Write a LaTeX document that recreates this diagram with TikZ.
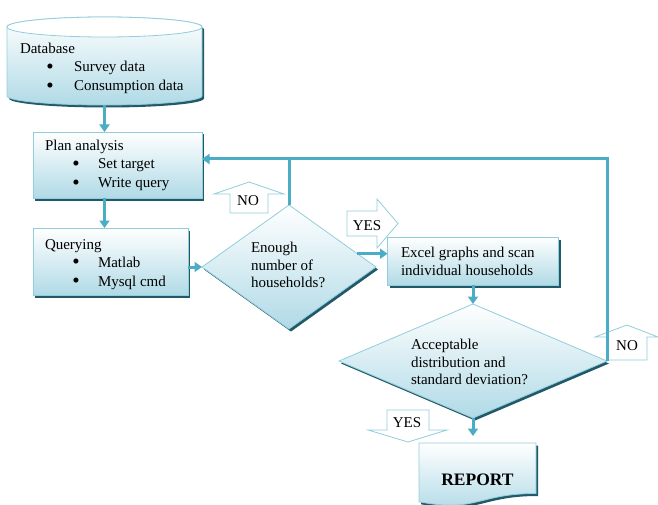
\documentclass[tikz,border=0pt]{standalone}
\usepackage{fontspec}
\setmainfont{Liberation Serif}
\usetikzlibrary{shapes.geometric,arrows.meta,shadows}
\definecolor{lineC}{HTML}{4BACC6}
\definecolor{edgeC}{HTML}{92CDDC}
\definecolor{fillB}{HTML}{B0DAE6}
\definecolor{shadowC}{HTML}{215968}
\newcommand{\blt}{\makebox[0pt][c]{\raisebox{-1.2pt}{\fontsize{21}{21}\selectfont •}}}
\begin{document}
\begin{tikzpicture}[x=1pt,y=-1pt,
  font=\fontsize{15}{18}\selectfont,
  shd/.style={drop shadow={shadow xshift=2pt,shadow yshift=-2.5pt,fill=shadowC,opacity=1}},
  shapefill/.style={draw=edgeC,line width=0.8pt,top color=white,bottom color=fillB,shd},
  box/.style={shapefill,rectangle,inner sep=0pt,outer sep=0pt},
  dia/.style={shapefill,diamond,inner sep=0pt,outer sep=0pt},
  hollow/.style={draw=edgeC,line width=0.8pt,fill=white,line join=miter},
  conn/.style={draw=lineC,line width=3pt,-{Triangle[length=7.5pt,width=10pt]}},
  plain/.style={draw=lineC,line width=3pt,line join=miter},
  txt/.style={inner sep=0pt,outer sep=0pt,anchor=base west},
  bul/.style={txt},
  ctxt/.style={inner sep=0pt,outer sep=0pt,anchor=base}]
\useasboundingbox (0,0) rectangle (658,505);

% hollow direction arrows
\path[hollow] (230,213) -- (230,194) -- (214,194) -- (249,182) -- (284,194) -- (268,194) -- (268,213) -- cycle;
\path[hollow] (347,211) -- (377,211) -- (377,199) -- (398,223.5) -- (377,248) -- (377,236) -- (347,236) -- cycle;
\path[hollow] (607,360) -- (607,337) -- (595,337) -- (627,325) -- (658,337) -- (647,337) -- (647,360) -- cycle;
\path[hollow] (387,410) -- (429,410) -- (429,430) -- (447,430) -- (408,442) -- (368,430) -- (387,430) -- cycle;

% database cylinder
\path[shapefill] (7,96) arc[start angle=180,end angle=360,x radius=97.5pt,y radius=9pt]
  -- (202,27) arc[start angle=0,end angle=180,x radius=97.5pt,y radius=10pt] -- cycle;
\path[draw=edgeC,line width=0.8pt,fill=white] (104.5,27) ellipse[x radius=97.5pt,y radius=10pt];
\coordinate (dbb) at (104.5,105);

% boxes and decisions
\node[box,minimum width=169pt,minimum height=66pt] (plan) at (117.5,165) {};
\node[box,minimum width=155pt,minimum height=67pt] (query) at (110.5,261.5) {};
\node[dia,minimum width=174pt,minimum height=124pt] (d1) at (289,267) {};
\node[box,minimum width=171pt,minimum height=48pt] (excel) at (473,261) {};
\node[dia,minimum width=268pt,minimum height=114pt] (d2) at (473,361) {};

% report document shape
\path[shapefill] (419,443) -- (536,443) -- (536,493.5)
  .. controls (477.5,493.5) and (477.5,512.7) .. (419,501.8) -- cycle;
\node[ctxt,font=\fontsize{17.5}{20}\selectfont\bfseries] (report) at (477.5,485) {REPORT};
\coordinate (reptop) at (473,436);

% connectors
\draw[conn] (dbb) -- (dbb |- plan.north);
\draw[conn] (plan.south -| dbb) -- (query.north -| dbb);
\draw[conn] (query.east |- d1.west) -- (d1.west);
\coordinate (lp) at (289,159);
\draw[plain] (d2.east) -- (d2.east |- lp) -- (lp);
\draw[conn] (d1.north) -- (lp) -- (lp -| plan.east);
\draw[conn] (d1.11) -- (d1.11 -| excel.west);
\draw[conn] (excel.south) -- (d2.north);
\draw[conn] (d2.south) -- (reptop);

% texts
\node[txt] (t1) at (20,54) {Database};
\node[bul] (t2) at (50,72) {\blt\hspace{24pt}Survey data};
\node[bul] (t3) at (50,91) {\blt\hspace{24pt}Consumption data};
\node[txt] (t4) at (45,151) {Plan analysis};
\node[bul] (t5) at (76,169) {\blt\hspace{22pt}Set target};
\node[bul] (t6) at (76,188) {\blt\hspace{22pt}Write query};
\node[txt] (t7) at (45,249) {Querying};
\node[bul] (t8) at (76,267) {\blt\hspace{22pt}Matlab};
\node[bul] (t9) at (76,286) {\blt\hspace{22pt}Mysql cmd};
\node[txt] (t10) at (251,252) {Enough};
\node[txt] (t11) at (251,270) {number of};
\node[txt] (t12) at (251,287) {households?};
\node[txt] (t13) at (401,257) {Excel graphs and scan};
\node[txt] (t14) at (401,275) {individual households};
\node[txt] (t15) at (411,349) {Acceptable};
\node[txt] (t16) at (411,367) {distribution and};
\node[txt] (t17) at (411,384) {standard deviation?};
\node[ctxt] (no1) at (248,205) {NO};
\node[ctxt] (yes1) at (367,230.5) {YES};
\node[ctxt] (no2) at (627,350) {NO};
\node[ctxt] (yes2) at (407,427) {YES};
\end{tikzpicture}
\end{document}
